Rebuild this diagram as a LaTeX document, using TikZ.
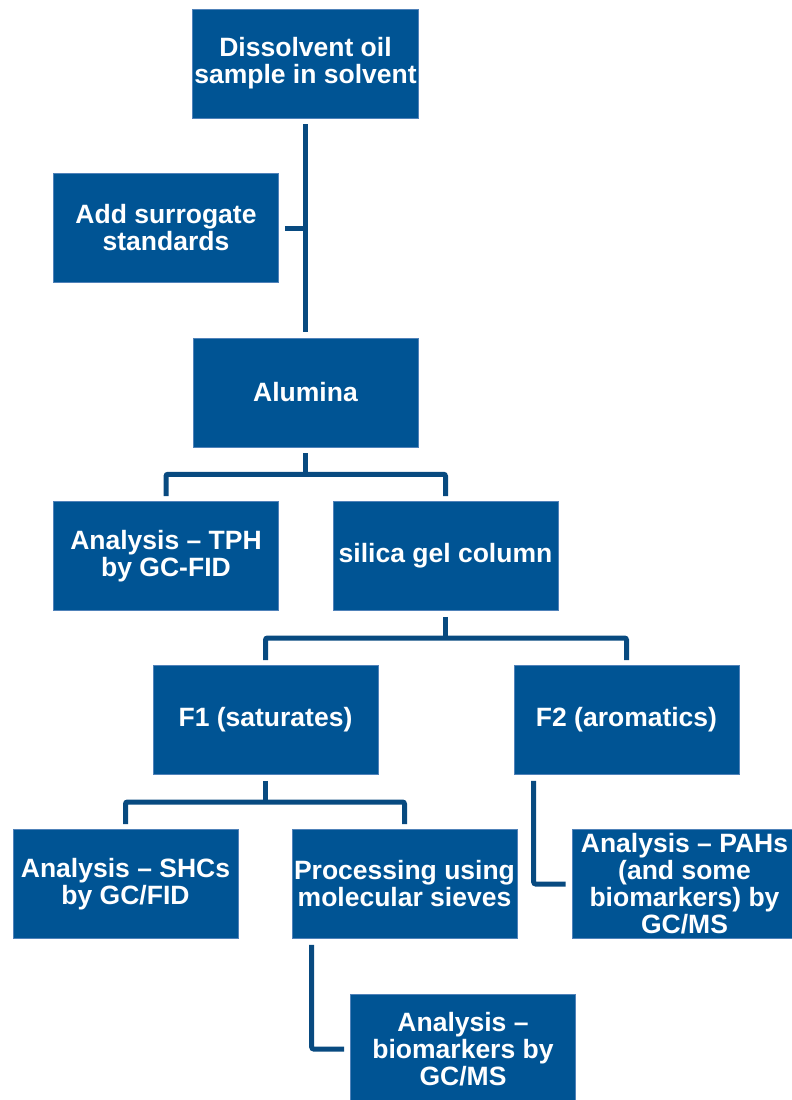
\documentclass[tikz,border=0pt]{standalone}
\usepackage{fontspec}
\setmainfont{Liberation Sans}
\usetikzlibrary{calc}

\definecolor{boxblue}{RGB}{0,84,148}
\definecolor{linkblue}{RGB}{8,74,128}

\tikzset{
  stepbox/.style={rectangle, fill=boxblue, draw={rgb,255:red,80;green,130;blue,185}, line width=0.6pt,
    minimum width=225pt, minimum height=109pt, inner sep=2pt, align=center, text=white,
    font=\fontsize{26.5}{27}\selectfont\bfseries},
  link/.style={draw=linkblue, line width=5pt, rounded corners=2pt}
}

\begin{document}
\begin{tikzpicture}[x=1pt,y=-1pt]

    % Page frame
    \useasboundingbox (0,0) rectangle (792,1100);

    % Define the boxes
    \node[stepbox] (dis) at (305.5, 63.5) {Dissolvent oil\\sample in solvent};
    \node[stepbox] (add) at (166, 228) {Add surrogate\\standards};
    \node[stepbox] (alu) at (305.5, 392.5) {Alumina};
    \node[stepbox] (tph) at (166, 556) {Analysis -- TPH\\by GC-FID};
    \node[stepbox] (sil) at (445.5, 556) {silica gel column};
    \node[stepbox] (fone) at (265.5, 720) {F1 (saturates)};
    \node[stepbox] (ftwo) at (626.5, 720) {F2 (aromatics)};
    \node[stepbox] (shc) at (125.5, 884) {Analysis -- SHCs\\by GC/FID};
    \node[stepbox] (pro) at (404.5, 884) {Processing using\\molecular sieves};
    \node[stepbox] (pah) at (684.5, 884) {Analysis -- PAHs\\(and some\\biomarkers) by\\GC/MS};
    \node[stepbox] (bio) at (463, 1049) {Analysis --\\biomarkers by\\GC/MS};

    % Main trunk with the side input
    \draw[link] ([yshift=-6pt]dis.south) -- ([yshift=6pt]alu.north);
    \draw[link] ([xshift=6pt]add.east) -- (add.east -| dis.south);

    % Alumina splits in two
    \coordinate (aluMid) at ($(alu.south)!0.5!(alu.south |- tph.north)$);
    \draw[link] ([yshift=-6pt]alu.south) -- (aluMid);
    \draw[link] ([yshift=5pt]tph.north) |- (aluMid) -| ([yshift=5pt]sil.north);

    % Silica gel fractions
    \coordinate (silMid) at ($(sil.south)!0.5!(sil.south |- fone.north)$);
    \draw[link] ([yshift=-6pt]sil.south) -- (silMid);
    \draw[link] ([yshift=5pt]fone.north) |- (silMid) -| ([yshift=5pt]ftwo.north);

    % F1 branches
    \coordinate (foneMid) at ($(fone.south)!0.5!(fone.south |- shc.north)$);
    \draw[link] ([yshift=-6pt]fone.south) -- (foneMid);
    \draw[link] ([yshift=5pt]shc.north) |- (foneMid) -| ([yshift=5pt]pro.north);

    % Elbows down to the analyses
    \draw[link] ([xshift=20pt,yshift=-6pt]ftwo.south west) |- ([xshift=-6pt]pah.west);
    \draw[link] ([xshift=20pt,yshift=-6pt]pro.south west) |- ([xshift=-6pt]bio.west);

\end{tikzpicture}
\end{document}
